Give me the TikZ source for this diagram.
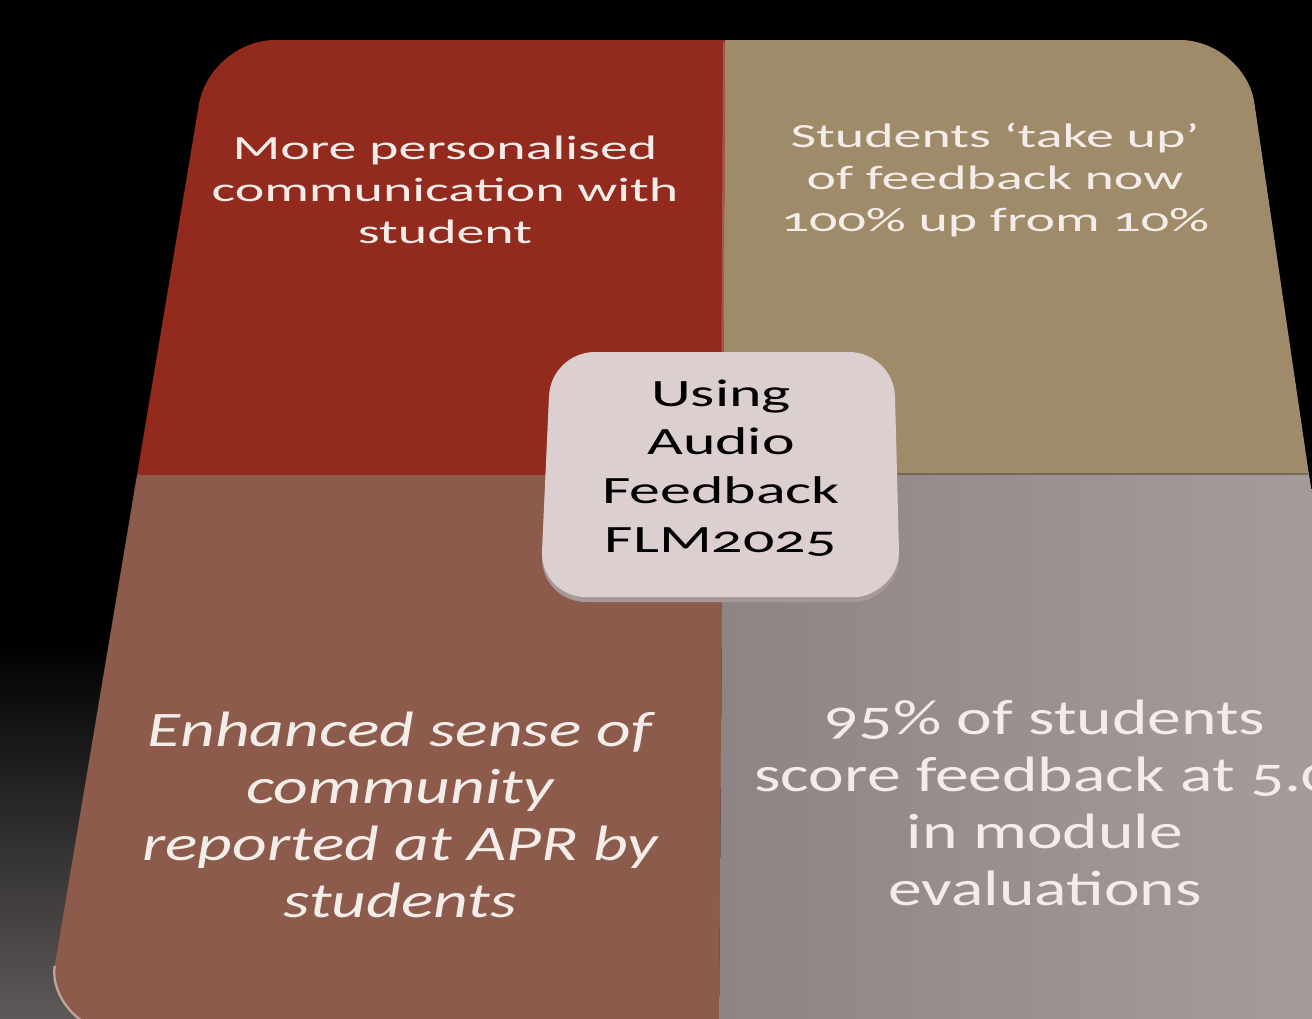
\documentclass[tikz,border=0pt]{standalone}
\usepackage{fontspec}
\setmainfont{Carlito}
\newfontfamily\topfont[FakeStretch=1.65,Numbers=OldStyle]{Carlito}
\newfontfamily\midfont[FakeStretch=1.6,Numbers=OldStyle]{Carlito}
\newfontfamily\botfont[FakeStretch=1.36,Numbers=OldStyle]{Carlito}
\definecolor{qred}{HTML}{932A1E}
\definecolor{qtan}{HTML}{9F8B6A}
\definecolor{qbrown}{HTML}{8C5B4C}
\definecolor{qgreyL}{HTML}{8F8484}
\definecolor{qgreyR}{HTML}{A89F9F}
\definecolor{boxfill}{HTML}{DCCFD0}
\definecolor{boxedge}{HTML}{A89898}
\definecolor{txtlight}{HTML}{F3ECE8}
\definecolor{bggrey}{HTML}{5E5959}
\tikzset{
  quadtext/.style={text=txtlight, align=center, inner sep=0pt},
  toptext/.style={quadtext, font=\topfont\fontsize{19.3}{23.8}\selectfont},
  bottext/.style={quadtext, font=\botfont\fontsize{28.3}{32.5}\selectfont},
  centertext/.style={text=black, align=center, inner sep=0pt, font=\midfont\fontsize{22}{27.8}\selectfont}
}
\begin{document}
\begin{tikzpicture}[x=0.02cm, y=-0.02cm]
\useasboundingbox (0,0) rectangle (1312,1018);
\clip (0,0) rectangle (1312,1018);
% background
\fill[black] (0,0) rectangle (1312,1018);
\shade[top color=black, bottom color=bggrey] (0,640) rectangle (400,1018);
% quadrants
\fill[qred] (725,475) -- (725,40) -- (275,40) .. controls (239,40) and (205,69) .. (199,104) -- (137,475) -- cycle;
\fill[qtan] (723,475) -- (725,40) -- (1180,40) .. controls (1216,40) and (1250,69) .. (1254.5,104) -- (1309,475) -- cycle;
\fill[qbrown] (723,475) -- (137,475) -- (54.7,966) .. controls (50,995) and (79,1030) .. (109,1030) -- (719,1030) -- cycle;
\shade[left color=qgreyL, right color=qgreyR] (723,475) -- (1309,475) -- (1400,1030) -- (719,1030) -- cycle;
% subtle edges
\draw[line width=1.2pt, qred!80!white] (724,42) -- (722,474);
\draw[line width=1.2pt, qtan!75!black] (726,474) -- (1308,474);
\draw[line width=1.3pt, qbrown!55!white] (54.7,966) .. controls (50,995) and (79,1030) .. (109,1030);
% texts
\node[toptext] (tl) at (445,190) {More personalised\\communication with\\student};
\node[toptext] (tr) at (995,180) {Students ‘take up’\\of feedback now\\100\% up from 10\%};
\node[bottext, font=\botfont\itshape\fontsize{28.3}{32.5}\selectfont] (bl) at (400,815) {Enhanced sense of\\community\\reported at APR by\\students};
\node[bottext] (br) at (1045,803) {95\% of students\\score feedback at 5.0\\in module\\evaluations};
% centre box
\fill[boxedge] (595,357) -- (849,357) .. controls (874,357) and (894.5,377) .. (895,402) -- (899,557) .. controls (899.5,582) and (875,602) .. (855,602) -- (586,602) .. controls (561,602) and (541.5,582) .. (542,557) -- (549,402) .. controls (549.5,377) and (570,357) .. (595,357) -- cycle;
\fill[boxfill] (595,352) -- (849,352) .. controls (874,352) and (894.5,372) .. (895,397) -- (899,552) .. controls (899.5,577) and (875,597) .. (855,597) -- (586,597) .. controls (561,597) and (541.5,577) .. (542,552) -- (549,397) .. controls (549.5,372) and (570,352) .. (595,352) -- cycle;
\node[centertext] (centre) at (721,468) {Using\\Audio\\Feedback\\FLM2025};
\end{tikzpicture}
\end{document}
